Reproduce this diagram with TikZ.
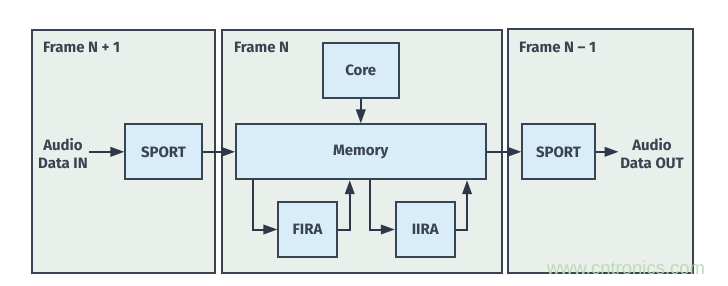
\documentclass[tikz,border=0pt]{standalone}
\usepackage{fontspec}
\setmainfont{Fira Sans}
\newfontfamily\wmfont{Liberation Sans}
\usetikzlibrary{arrows.meta,calc}
\definecolor{framefill}{HTML}{E9F0EC}
\definecolor{boxfill}{HTML}{D9ECF9}
\definecolor{ink}{HTML}{3A4350}
\definecolor{arrowink}{HTML}{2F3848}
\definecolor{wm}{HTML}{B9D8AE}
\tikzset{
  frame/.style={draw=ink, fill=framefill, line width=2.2pt, inner sep=0pt, anchor=north west},
  blockbox/.style={draw=ink, fill=boxfill, line width=1.8pt, inner sep=0pt, font=\bfseries\fontsize{15}{18}\selectfont, text=ink},
  flow/.style={draw=arrowink, line width=2pt, -{Triangle[length=14pt,width=9.5pt]}},
  lbl/.style={font=\bfseries\fontsize{15}{18}\selectfont, text=ink, align=center, inner sep=1.5pt},
  ftitle/.style={font=\bfseries\fontsize{15}{18}\selectfont, text=ink, anchor=west, inner sep=0pt}
}
\begin{document}
\begin{tikzpicture}[x=1pt,y=-1pt]
\useasboundingbox[fill=white] (0,0) rectangle (728,285);
% frames
\node[frame, minimum width=183pt, minimum height=243pt] (f1) at (30.5,29) {};
\node[frame, minimum width=279.7pt, minimum height=243pt] (f2) at (221,29) {};
\node[frame, minimum width=185pt, minimum height=244pt] (f3) at (507,28) {};
\node[ftitle] (t1) at (43,47) {Frame N + 1};
\node[ftitle] (t2) at (234,47) {Frame N};
\node[ftitle] (t3) at (519,47) {Frame N – 1};
% blocks
\node[blockbox, minimum width=76.4pt, minimum height=55pt] (sportl) at (163.5,151.8) {SPORT};
\node[blockbox, minimum width=76.3pt, minimum height=55.6pt] (core) at (360.8,70.5) {Core};
\node[blockbox, minimum width=249.7pt, minimum height=55pt] (mem) at (360.8,151.8) {Memory};
\node[blockbox, minimum width=58.4pt, minimum height=55.6pt] (fira) at (307.5,229.5) {FIRA};
\node[blockbox, minimum width=59pt, minimum height=55.6pt] (iira) at (425.2,229.5) {IIRA};
\node[blockbox, minimum width=72.4pt, minimum height=55pt] (sportr) at (558.5,151.8) {SPORT};
% labels
\node[lbl] (in) at (63,154) {Audio\\Data IN};
\node[lbl] (out) at (652,154) {Audio\\Data OUT};
% helper coordinates on memory bottom
\coordinate (m1) at ($(mem.south west)+(18.3,0)$);
\coordinate (m2) at ($(mem.south west)+(114.7,0)$);
\coordinate (m3) at ($(mem.south west)+(135.3,0)$);
\coordinate (m4) at ($(mem.south west)+(232,0)$);
% connectors
\draw[flow] (in.east |- sportl.west) -- (sportl.west);
\draw[flow] (sportl.east) -- (mem.west);
\draw[flow] (core.south) -- (mem.north);
\draw[flow] (m1) |- (fira.west);
\draw[flow] (fira.east) -| (m2);
\draw[flow] (m3) |- (iira.west);
\draw[flow] (iira.east) -| (m4);
\draw[flow] (mem.east) -- (sportr.west);
\draw[flow] (sportr.east) -- (out.west |- sportr.east);
% watermark
\node[text=wm, font=\wmfont\fontsize{18.5}{18.5}\selectfont, inner sep=0pt, opacity=0.9] (wmk) at (626,268) {www.cntronics.com};
\end{tikzpicture}
\end{document}
